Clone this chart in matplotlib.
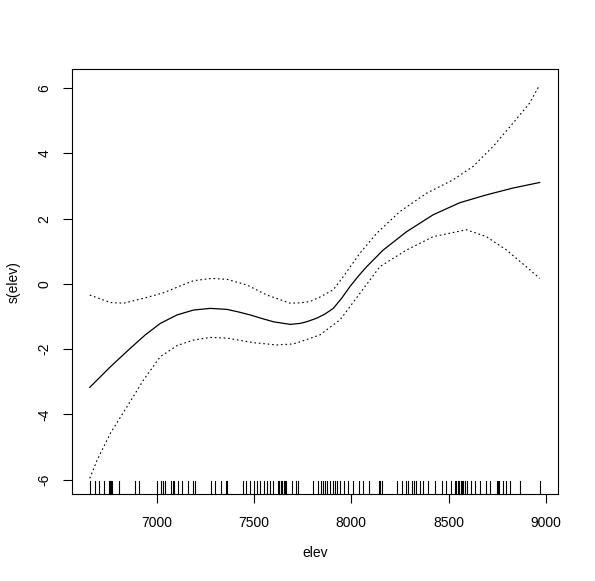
import numpy as np
import matplotlib.pyplot as plt

plt.rcParams['font.family'] = ['Liberation Sans', 'DejaVu Sans']

# smooth term s(elev): fitted curve and +/- 2 se bands
fit_x = [6654, 6760, 6863, 6940, 7017, 7103, 7188, 7274, 7360, 7420, 7479,
         7540, 7599, 7685, 7736, 7770, 7822, 7865, 7907, 7950, 7993, 8036,
         8079, 8164, 8284, 8421, 8558, 8695, 8832, 8969]
fit_y = [-3.17, -2.54, -1.97, -1.56, -1.21, -0.95, -0.80, -0.75, -0.78, -0.86,
         -0.95, -1.06, -1.16, -1.24, -1.21, -1.16, -1.05, -0.92, -0.75, -0.44,
         -0.08, 0.24, 0.53, 1.04, 1.60, 2.12, 2.49, 2.73, 2.94, 3.11]

upper_x = [6654, 6760, 6829, 6931, 7034, 7120, 7188, 7282, 7360, 7462, 7565,
           7685, 7736, 7787, 7839, 7907, 7958, 8044, 8130, 8250, 8387, 8523,
           8626, 8729, 8832, 8917, 8969]
upper_y = [-0.34, -0.57, -0.59, -0.44, -0.27, -0.06, 0.10, 0.17, 0.14, -0.03,
           -0.34, -0.59, -0.58, -0.54, -0.40, -0.18, 0.22, 0.94, 1.55, 2.22,
           2.78, 3.19, 3.60, 4.21, 4.93, 5.54, 6.10]

lower_x = [6654, 6692, 6760, 6846, 6931, 7017, 7103, 7188, 7274, 7360, 7496,
           7616, 7702, 7787, 7839, 7942, 8044, 8147, 8284, 8421, 8592, 8695,
           8798, 8900, 8969]
lower_y = [-5.96, -5.40, -4.58, -3.76, -2.94, -2.23, -1.89, -1.72, -1.64, -1.66,
           -1.80, -1.87, -1.84, -1.67, -1.56, -1.10, -0.29, 0.53, 1.04, 1.45,
           1.66, 1.45, 1.04, 0.53, 0.17]

# observed elevations (rug)
elev = [6654, 6680, 6704, 6726, 6752, 6758, 6764, 6770, 6806, 6885, 6905,
        7000, 7021, 7031, 7043, 7073, 7080, 7089, 7108, 7130, 7161, 7185, 7198,
        7277, 7296, 7327, 7354, 7358, 7440, 7460, 7478, 7498, 7514, 7531, 7548,
        7565, 7580, 7599, 7623, 7630, 7637, 7644, 7651, 7658, 7665, 7693, 7715,
        7728, 7801, 7830, 7844, 7856, 7864, 7876, 7890, 7904, 7916, 7927, 7942,
        7962, 7984, 8010, 8041, 8058, 8089, 8143, 8150, 8156, 8236, 8263, 8280,
        8294, 8311, 8320, 8335, 8352, 8369, 8395, 8431, 8469, 8489, 8512, 8534,
        8541, 8548, 8555, 8562, 8570, 8577, 8584, 8597, 8618, 8637, 8664, 8695,
        8712, 8749, 8755, 8760, 8780, 8794, 8815, 8870, 8972]

xticks = [7000, 7500, 8000, 8500, 9000]
yticks = [-6, -4, -2, 0, 2, 4, 6]

fig = plt.figure(figsize=(5.95, 5.81), dpi=100)
ax = fig.add_axes([71.7 / 595, 87 / 581, 486.6 / 595, 424.7 / 581])

ax.plot(fit_x, fit_y, color='black', lw=0.9)
ax.plot(upper_x, upper_y, color='black', lw=0.8, linestyle=(0, (1.5, 2.5)))
ax.plot(lower_x, lower_y, color='black', lw=0.8, linestyle=(0, (1.5, 2.5)))

# rug along the bottom
for e in elev:
    ax.plot([e, e], [0, 0.03], color='black', lw=0.8,
            transform=ax.get_xaxis_transform(), clip_on=False)

ax.set_xlim(6561, 9065)
ax.set_ylim(-6.44, 6.58)
ax.set_xticks(xticks)
ax.set_yticks(yticks)
ax.set_yticklabels([str(t) for t in yticks], rotation=90, va='center')
ax.tick_params(direction='out', length=6.5, width=0.8, labelsize=10)
ax.tick_params(axis='x', pad=9)
ax.tick_params(axis='y', pad=8)
for s in ax.spines.values():
    s.set_linewidth(0.8)

ax.set_xlabel('elev', fontsize=10)
ax.set_ylabel('s(elev)', fontsize=10)
ax.xaxis.set_label_coords(0.5, -0.122)
ax.yaxis.set_label_coords(-0.104, 0.5)

fig.savefig('out.png', dpi=100)
